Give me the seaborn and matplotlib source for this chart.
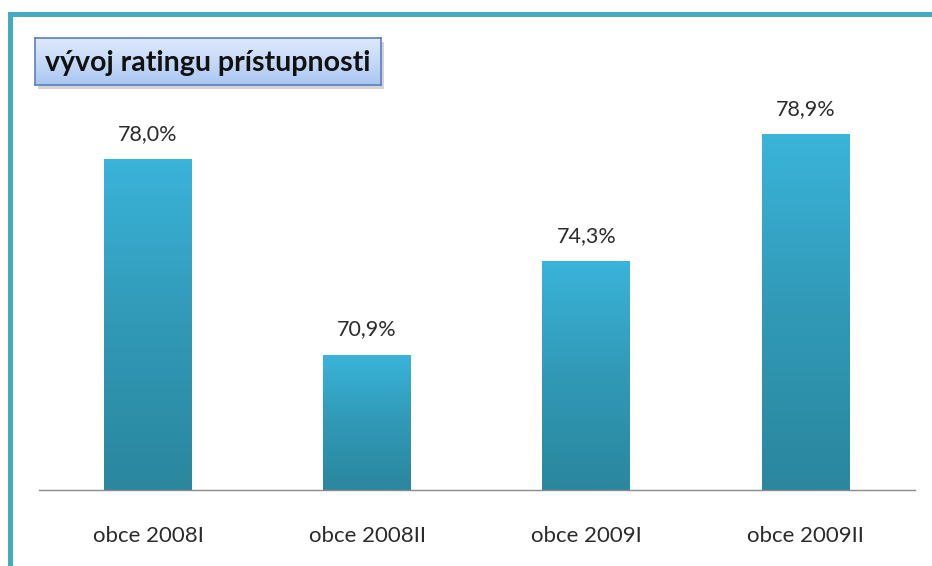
import numpy as np
import pandas as pd
import matplotlib
matplotlib.use("Agg")
import matplotlib.pyplot as plt
from matplotlib.colors import LinearSegmentedColormap
from matplotlib.patches import Rectangle
import seaborn as sns

# data
categories = ["obce 2008I", "obce 2008II", "obce 2009I", "obce 2009II"]
values = [78.0, 70.9, 74.3, 78.9]
title = "vývoj ratingu prístupnosti"

sns.set_style("white")
plt.rcParams["font.family"] = ["Lato", "DejaVu Sans"]

df = pd.DataFrame({"obdobie": categories, "rating": values})

fig = plt.figure(figsize=(9.32, 5.66), dpi=100)
ax = fig.add_axes([38.5 / 932, 1 - 490 / 566, (915 - 38.5) / 932, 400 / 566])

sns.barplot(data=df, x="obdobie", y="rating", color="#33a5c8", width=0.4, ax=ax)
ax.set_ylim(66, 80.5)
ax.set_xlim(-0.5, 3.5)

# vertical gradient inside the bars
bar_cmap = LinearSegmentedColormap.from_list("bar", ["#2a879e", "#3199b6", "#3ab4da"])
grad = np.linspace(0, 1, 256).reshape(-1, 1)
for p in ax.patches:
    x0, y0 = p.get_x(), p.get_y()
    w, h = p.get_width(), p.get_height()
    p.set_facecolor("none")
    p.set_edgecolor("none")
    im = ax.imshow(grad, cmap=bar_cmap, origin="lower", aspect="auto",
                   extent=[x0, x0 + w, 66, y0 + h], zorder=2)
    im.set_clip_path(p)

# value labels
for i, v in enumerate(values):
    ax.annotate(f"{v:.1f}%".replace(".", ","), xy=(i, v), xytext=(0, 11),
                textcoords="offset points", ha="center", va="bottom",
                fontsize=15.5, color="#2b2b2b")

sns.despine(ax=ax, left=True, right=True, top=True)
ax.spines["bottom"].set_color("#8a8a8a")
ax.spines["bottom"].set_linewidth(1.0)
ax.set(xlabel=None, ylabel=None, yticks=[])
ax.tick_params(axis="x", length=0, pad=26, labelsize=16, labelcolor="#2b2b2b")

# frame lines on top and left
fig.patches.append(Rectangle((8 / 932, 0), 4.5 / 932, 1 - 12 / 566, transform=fig.transFigure,
                             facecolor="#44a9c2", edgecolor="none"))
fig.patches.append(Rectangle((8 / 932, 1 - 16.5 / 566), 1, 4.5 / 566, transform=fig.transFigure,
                             facecolor="#44a9c2", edgecolor="none"))

# title box with gradient and shadow
bx, by, bw, bh = 35, 38, 346, 47
fig.patches.append(Rectangle(((bx + 3) / 932, 1 - (by + bh + 4) / 566), bw / 932, bh / 566,
                             transform=fig.transFigure, facecolor="#b8b8b8", edgecolor="none",
                             alpha=0.6, zorder=-1))
tax = fig.add_axes([bx / 932, 1 - (by + bh) / 566, bw / 932, bh / 566])
tax.set_zorder(3)
box_cmap = LinearSegmentedColormap.from_list("box", ["#a9c6f2", "#c6daf7", "#dce9fb"])
tax.imshow(grad, cmap=box_cmap, origin="lower", aspect="auto", extent=[0, 1, 0, 1])
tax.set_xticks([])
tax.set_yticks([])
for s in tax.spines.values():
    s.set_color("#5b7fc0")
    s.set_linewidth(1.2)
tax.text(0.5, 0.47, title, ha="center", va="center", fontsize=20.5, fontweight="bold",
         color="#111111", transform=tax.transAxes)

fig.savefig("out.png", dpi=100)
